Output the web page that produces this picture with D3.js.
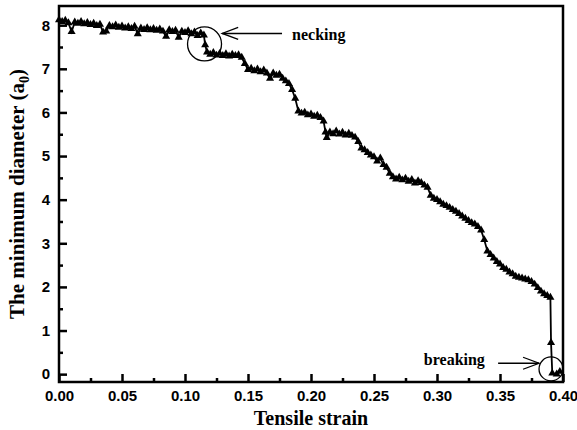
<!DOCTYPE html>
<html>
<head>
<meta charset="utf-8">
<script src="https://cdn.jsdelivr.net/npm/d3@7"></script>
<style>
  body { margin: 0; background: #fff; }
  svg { display: block; }
</style>
</head>
<body>
<svg width="577" height="430"></svg>
<script>
var strain = [
  0.0000, 0.0025, 0.0050, 0.0075, 0.0100, 0.0125, 0.0150, 0.0175, 0.0200, 0.0225,
  0.0250, 0.0275, 0.0300, 0.0325, 0.0350, 0.0375, 0.0400, 0.0425, 0.0450, 0.0475,
  0.0500, 0.0525, 0.0550, 0.0575, 0.0600, 0.0625, 0.0650, 0.0675, 0.0700, 0.0725,
  0.0750, 0.0775, 0.0800, 0.0825, 0.0850, 0.0875, 0.0900, 0.0925, 0.0950, 0.0975,
  0.1000, 0.1025, 0.1050, 0.1075, 0.1100, 0.1125, 0.1150, 0.1160, 0.1175, 0.1200,
  0.1225, 0.1250, 0.1275, 0.1300, 0.1325, 0.1350, 0.1375, 0.1400, 0.1425, 0.1450,
  0.1475, 0.1500, 0.1525, 0.1550, 0.1575, 0.1600, 0.1625, 0.1650, 0.1675, 0.1700,
  0.1725, 0.1750, 0.1775, 0.1800, 0.1825, 0.1850, 0.1875, 0.1900, 0.1925, 0.1950,
  0.1975, 0.2000, 0.2025, 0.2050, 0.2075, 0.2100, 0.2115, 0.2125, 0.2150, 0.2175,
  0.2200, 0.2225, 0.2250, 0.2275, 0.2300, 0.2325, 0.2350, 0.2375, 0.2400, 0.2425,
  0.2450, 0.2475, 0.2500, 0.2525, 0.2550, 0.2575, 0.2600, 0.2625, 0.2650, 0.2675,
  0.2700, 0.2725, 0.2750, 0.2775, 0.2800, 0.2825, 0.2850, 0.2875, 0.2900, 0.2925,
  0.2950, 0.2975, 0.3000, 0.3025, 0.3050, 0.3075, 0.3100, 0.3125, 0.3150, 0.3175,
  0.3200, 0.3225, 0.3250, 0.3275, 0.3300, 0.3325, 0.3350, 0.3375, 0.3400, 0.3425,
  0.3450, 0.3475, 0.3500, 0.3525, 0.3550, 0.3575, 0.3600, 0.3625, 0.3650, 0.3675,
  0.3700, 0.3725, 0.3750, 0.3775, 0.3800, 0.3825, 0.3850, 0.3875, 0.3900, 0.3905,
  0.3915, 0.3950, 0.3975
];
var diameter = [
  8.12, 8.08, 8.11, 8.05, 7.85, 8.07, 8.04, 8.08, 8.03, 8.06,
  8.01, 8.04, 7.99, 8.02, 7.84, 7.86, 7.99, 7.96, 8.00, 7.95,
  7.98, 7.93, 7.96, 7.92, 7.97, 7.80, 7.93, 7.90, 7.94, 7.89,
  7.92, 7.88, 7.91, 7.86, 7.74, 7.89, 7.85, 7.88, 7.72, 7.86,
  7.83, 7.87, 7.80, 7.84, 7.76, 7.82, 7.77, 7.55, 7.38, 7.33,
  7.37, 7.31, 7.35, 7.30, 7.34, 7.29, 7.33, 7.30, 7.32, 7.26,
  7.12, 6.98, 7.01, 6.95, 6.99, 6.93, 6.97, 6.90, 6.78, 6.90,
  6.85, 6.87, 6.78, 6.72, 6.66, 6.52, 6.32, 6.03, 5.98, 6.00,
  5.94, 5.96, 5.91, 5.93, 5.88, 5.80, 5.55, 5.42, 5.55, 5.51,
  5.57, 5.50, 5.54, 5.48, 5.52, 5.47, 5.43, 5.33, 5.18, 5.14,
  5.08, 5.02, 4.98, 4.88, 4.95, 4.80, 4.74, 4.60, 4.52, 4.47,
  4.51, 4.45, 4.49, 4.42, 4.46, 4.38, 4.43, 4.39, 4.33, 4.28,
  4.10, 4.03, 4.00, 3.95, 3.89, 3.86, 3.82, 3.77, 3.73, 3.68,
  3.62, 3.57, 3.52, 3.47, 3.44, 3.38, 3.30, 3.08, 2.82, 2.74,
  2.66, 2.58, 2.52, 2.44, 2.40, 2.34, 2.30, 2.24, 2.22, 2.20,
  2.18, 2.16, 2.12, 2.06, 1.98, 1.90, 1.84, 1.80, 1.76, 0.72,
  0.02, 0.00, 0.06
];
var xMajor = [0, 0.05, 0.10, 0.15, 0.20, 0.25, 0.30, 0.35, 0.40];
var xMinor = [0.025, 0.075, 0.125, 0.175, 0.225, 0.275, 0.325, 0.375];
var yMajor = [0, 1, 2, 3, 4, 5, 6, 7, 8];
var yMinor = [0.5, 1.5, 2.5, 3.5, 4.5, 5.5, 6.5, 7.5];

var svg = d3.select("svg");
var plotL = 59, plotR = 563, plotT = 6, plotB = 382;

var x = d3.scaleLinear().domain([0, 0.40]).range([plotL, plotR]);
var y = d3.scaleLinear().domain([-0.18, 8.44]).range([plotB, plotT]);

var data = strain.map((s, i) => ({ x: s, y: diameter[i] }));

// axes, ticks pointing inward
svg.append("g")
    .attr("transform", "translate(0," + plotB + ")")
    .call(d3.axisBottom(x).tickValues(xMajor).tickSize(-8).tickPadding(8)
        .tickFormat(d3.format(".2f")));
svg.append("g")
    .attr("transform", "translate(0," + plotB + ")")
    .call(d3.axisBottom(x).tickValues(xMinor).tickSize(-4).tickFormat(""));

svg.append("g")
    .attr("transform", "translate(" + plotL + ",0)")
    .call(d3.axisLeft(y).tickValues(yMajor).tickSize(-8).tickPadding(9)
        .tickFormat(d3.format("d")));
svg.append("g")
    .attr("transform", "translate(" + plotL + ",0)")
    .call(d3.axisLeft(y).tickValues(yMinor).tickSize(-4).tickFormat(""));

svg.selectAll(".domain").remove();
svg.selectAll(".tick line").attr("stroke", "#000").attr("stroke-width", 2.5);
svg.selectAll(".tick text")
    .attr("fill", "#000")
    .style("font-family", "'Liberation Sans', Arial, sans-serif")
    .style("font-weight", "bold")
    .style("font-size", "15px");

// frame
svg.append("rect")
    .attr("x", plotL).attr("y", plotT)
    .attr("width", plotR - plotL).attr("height", plotB - plotT)
    .attr("fill", "none").attr("stroke", "#000").attr("stroke-width", 2.5);

// data line + triangle markers
var line = d3.line().x(d => x(d.x)).y(d => y(d.y));
svg.append("path")
    .datum(data)
    .attr("d", line)
    .attr("fill", "none")
    .attr("stroke", "#000")
    .attr("stroke-width", 1.8);

svg.append("g")
    .selectAll("path")
    .data(data)
    .enter()
    .append("path")
    .attr("transform", d => "translate(" + x(d.x) + "," + y(d.y) + ")")
    .attr("d", d3.symbol().type(d3.symbolTriangle).size(28))
    .attr("fill", "#000");

// annotations
var serif = "'Liberation Serif', 'Times New Roman', serif";

function annotate(cx, cy, r, x1, x2, ay, label, tx, ty, anchor) {
    svg.append("circle")
        .attr("cx", x(cx)).attr("cy", y(cy)).attr("r", r)
        .attr("fill", "none").attr("stroke", "#000").attr("stroke-width", 1.3);
    var tip = x(x2), yy = y(ay);
    svg.append("line")
        .attr("x1", x(x1)).attr("x2", tip).attr("y1", yy).attr("y2", yy)
        .attr("stroke", "#000").attr("stroke-width", 1.3);
    svg.append("path")
        .attr("d", "M" + (tip + 16) + "," + (yy - 6) + "L" + tip + "," + yy + "L" + (tip + 16) + "," + (yy + 6))
        .attr("transform", x2 > x1 ? "rotate(180," + tip + "," + yy + ")" : null)
        .attr("fill", "none").attr("stroke", "#000").attr("stroke-width", 1.3);
    svg.append("text")
        .attr("x", x(tx)).attr("y", y(ty))
        .attr("text-anchor", anchor)
        .style("font-family", serif)
        .style("font-weight", "bold")
        .style("font-size", "16px")
        .text(label);
}

annotate(0.1155, 7.57, 17, 0.177, 0.1295, 7.81, "necking", 0.185, 7.66, "start");
annotate(0.3905, 0.12, 12, 0.3485, 0.3810, 0.25, "breaking", 0.3380, 0.20, "end");

// axis titles
svg.append("text")
    .attr("x", (plotL + plotR) / 2).attr("y", 425)
    .attr("text-anchor", "middle")
    .style("font-family", serif)
    .style("font-weight", "bold")
    .style("font-size", "20px")
    .text("Tensile strain");

var yt = svg.append("text")
    .attr("transform", "translate(24," + (plotT + plotB) / 2 + ") rotate(-90)")
    .attr("text-anchor", "middle")
    .style("font-family", serif)
    .style("font-weight", "bold")
    .style("font-size", "21px");
yt.append("tspan").text("The minimum diameter (a");
yt.append("tspan").attr("dy", 5).style("font-size", "14px").text("0");
yt.append("tspan").attr("dy", -5).text(")");
</script>
</body>
</html>
